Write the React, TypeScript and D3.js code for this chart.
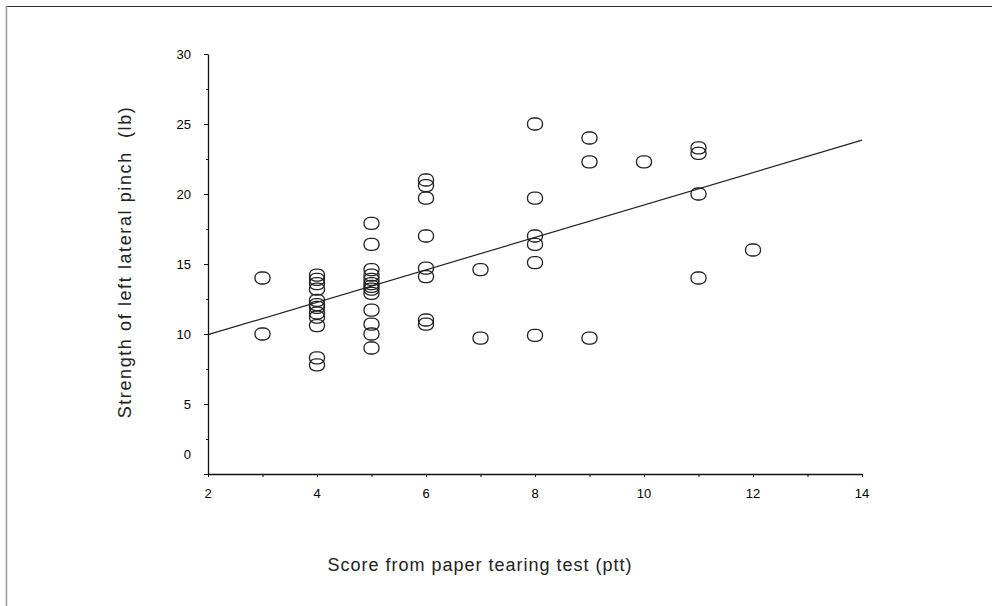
import * as d3 from 'd3';
import React, { useRef, useEffect } from 'react';

// paper tearing score (x) vs left lateral pinch strength in lb (y)
const pttScores = [
  3, 3,
  4, 4, 4, 4, 4, 4, 4, 4, 4, 4, 4, 4,
  5, 5, 5, 5, 5, 5, 5, 5, 5, 5, 5, 5, 5,
  6, 6, 6, 6, 6, 6, 6, 6,
  7, 7,
  8, 8, 8, 8, 8, 8,
  9, 9, 9,
  10,
  11, 11, 11, 11,
  12,
];
const pinchStrength = [
  14.0, 10.0,
  14.2, 13.9, 13.6, 13.2, 12.4, 12.1, 11.9, 11.5, 11.2, 10.6, 8.3, 7.8,
  17.9, 16.4, 14.6, 14.2, 13.9, 13.6, 13.4, 13.2, 12.9, 11.7, 10.7, 10.0, 9.0,
  21.0, 20.6, 19.7, 17.0, 14.7, 14.1, 11.0, 10.7,
  14.6, 9.7,
  25.0, 19.7, 17.0, 16.4, 15.1, 9.9,
  24.0, 22.3, 9.7,
  22.3,
  23.3, 22.9, 20.0, 14.0,
  16.0,
];

// fitted regression line endpoints
const fitX = [2, 14];
const fitY = [9.95, 23.85];

const xTicks = [2, 4, 6, 8, 10, 12, 14];
const yTicks = [0, 5, 10, 15, 20, 25, 30];

function Scatter({ width, height }) {
  const ref = useRef();
  const margin = { top: 54, right: 130, bottom: 132, left: 208 };
  const font = 'Liberation Sans, Arial, sans-serif';

  useEffect(() => {
    draw();
  });

  const draw = () => {
    const svg = d3.select(ref.current).attr('width', width).attr('height', height);
    svg.selectAll('*').remove();

    svg.append('rect').attr('width', width).attr('height', height).attr('fill', 'white');

    // frame edges
    svg.append('line').attr('x1', 6).attr('x2', width).attr('y1', 6.5).attr('y2', 6.5)
      .attr('stroke', '#333').attr('stroke-width', 1);
    svg.append('line').attr('x1', 6.5).attr('x2', 6.5).attr('y1', 6).attr('y2', height)
      .attr('stroke', '#999').attr('stroke-width', 1.5);

    const x = d3.scaleLinear().domain([2, 14]).range([margin.left, width - margin.right]);
    const y = d3.scaleLinear().domain([0, 30]).range([height - margin.bottom, margin.top]);

    const axisColor = '#111';

    // y axis
    const yAxis = d3.axisLeft(y).tickValues(d3.range(0, 30.1, 2.5)).tickSize(0).tickFormat(() => '');
    const gy = svg.append('g').attr('transform', `translate(${margin.left},0)`).call(yAxis);
    gy.select('.domain').attr('stroke', axisColor).attr('stroke-width', 1.3);
    gy.selectAll('.tick').append('line')
      .attr('x1', 0).attr('x2', (d) => (d % 5 === 0 ? -4 : -2))
      .attr('stroke', axisColor);

    svg.append('g').selectAll('text').data(yTicks).enter().append('text')
      .attr('x', margin.left - 17)
      .attr('y', (d) => (d === 0 ? y(d) - 20 : y(d)))
      .attr('dy', '0.35em')
      .attr('text-anchor', 'end')
      .style('font-family', font)
      .style('font-size', '13px')
      .attr('fill', '#000')
      .text((d) => d);

    // x axis
    const xAxis = d3.axisBottom(x).tickValues(d3.range(2, 14.1, 1)).tickSize(0).tickFormat(() => '');
    const gx = svg.append('g').attr('transform', `translate(0,${height - margin.bottom})`).call(xAxis);
    gx.select('.domain').attr('stroke', axisColor).attr('stroke-width', 1.3);
    gx.selectAll('.tick').append('line')
      .attr('y1', 0).attr('y2', 3)
      .attr('stroke', axisColor);

    svg.append('g').selectAll('text').data(xTicks).enter().append('text')
      .attr('x', (d) => x(d))
      .attr('y', height - margin.bottom + 24)
      .attr('text-anchor', 'middle')
      .style('font-family', font)
      .style('font-size', '13px')
      .attr('fill', '#000')
      .text((d) => d);

    // axis titles
    svg.append('text')
      .attr('transform', `translate(131,262) rotate(-90)`)
      .attr('text-anchor', 'middle')
      .style('font-family', font)
      .style('font-size', '18px')
      .style('letter-spacing', '1.6px')
      .style('white-space', 'pre')
      .attr('fill', '#222')
      .text('Strength of left lateral pinch  (lb)');

    svg.append('text')
      .attr('x', 480)
      .attr('y', 571)
      .attr('text-anchor', 'middle')
      .style('font-family', font)
      .style('font-size', '18px')
      .style('letter-spacing', '1px')
      .attr('fill', '#222')
      .text('Score from paper tearing test (ptt)');

    // regression line
    const line = d3.line().x((d) => x(d[0])).y((d) => y(d[1]));
    svg.append('path')
      .attr('d', line(d3.zip(fitX, fitY)))
      .attr('fill', 'none')
      .attr('stroke', '#222')
      .attr('stroke-width', 1.2);

    // points
    const pts = d3.zip(pttScores, pinchStrength);
    svg.append('g').selectAll('rect').data(pts).enter().append('rect')
      .attr('x', (d) => x(d[0]) - 7.5)
      .attr('y', (d) => y(d[1]) - 6)
      .attr('width', 15)
      .attr('height', 12)
      .attr('rx', 6)
      .attr('ry', 5.5)
      .attr('fill', 'none')
      .attr('stroke', '#222')
      .attr('stroke-width', 1.3);
  };

  return <svg ref={ref} style={{ display: 'block' }}></svg>;
}

export default function App() {
  return (
    <div style={{ position: 'absolute', left: 0, top: 0 }}>
      <Scatter width={992} height={606} />
    </div>
  );
}
